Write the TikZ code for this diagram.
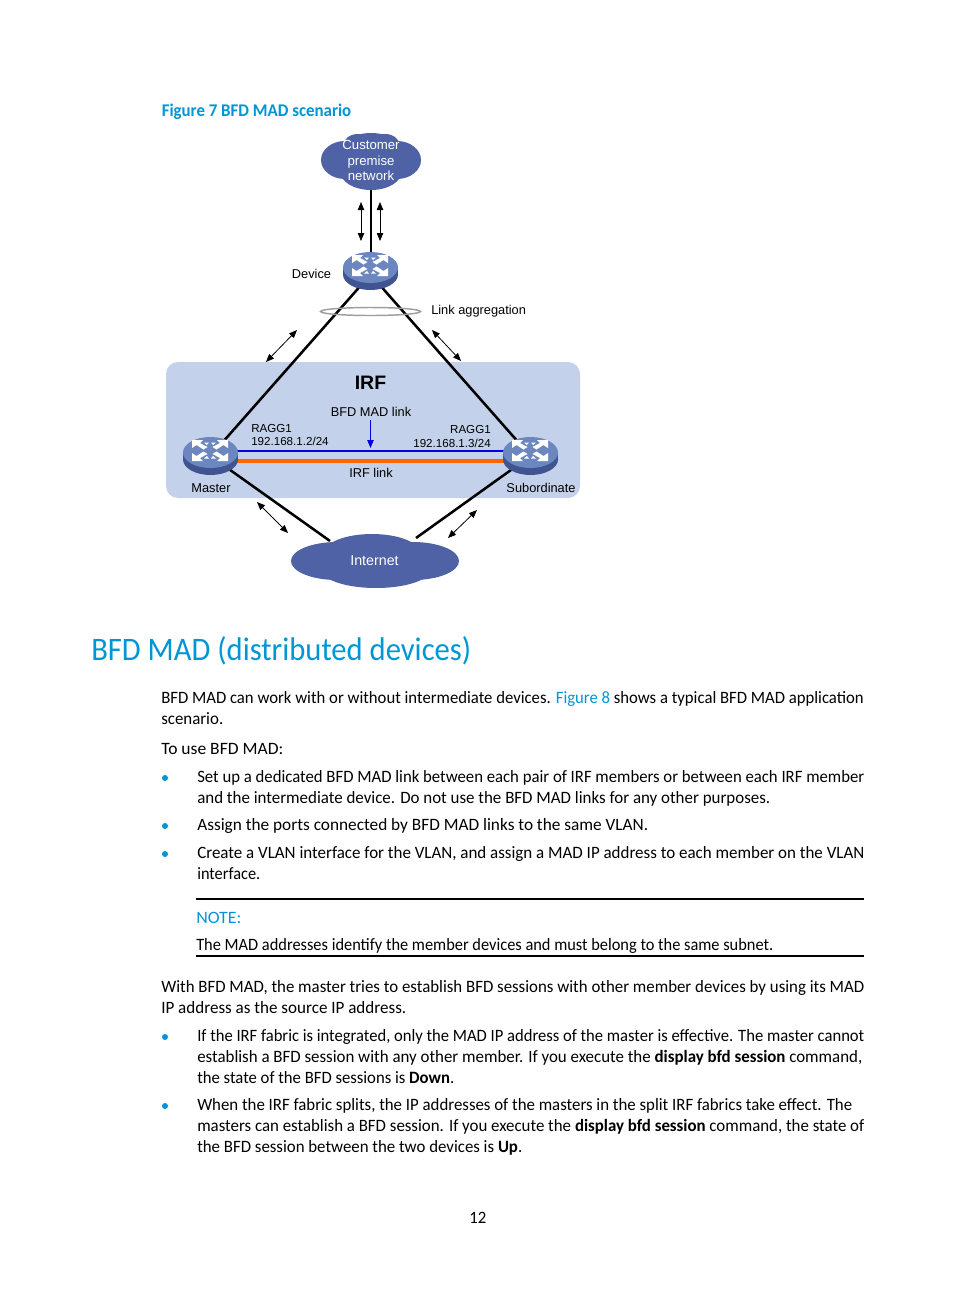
\documentclass[tikz,border=0pt]{standalone}
\usepackage{fontspec}
\usepackage{graphicx}
\setmainfont{Carlito}
\newfontfamily\dia{Liberation Sans}
\usetikzlibrary{arrows.meta}
\definecolor{hpblue}{HTML}{0096D6}
\definecolor{cloudc}{HTML}{4F62A5}
\definecolor{panel}{HTML}{C3D1EA}
\definecolor{swtop}{HTML}{6C87BF}
\definecolor{swside}{HTML}{3F5490}
\definecolor{orangel}{HTML}{FF6600}
\newsavebox{\lwbox}
\newcommand{\lw}[2]{\sbox{\lwbox}{#2}\pgfmathsetmacro{\lwr}{#1*0.75/\the\wd\lwbox}\scalebox{\lwr}[1]{\usebox{\lwbox}}}
\tikzset{
  x=0.75pt,y=-0.75pt,
  body/.style={anchor=base west,inner sep=0pt,font=\fontsize{13pt}{15pt}\selectfont,text=black},
  bul/.style={circle,fill=hpblue,inner sep=0pt,minimum size=4.5pt},
  dlabel/.style={inner sep=0pt,font=\dia\fontsize{9.6pt}{12pt}\selectfont,text=black},
  smalll/.style={dlabel,font=\dia\fontsize{8.7pt}{12pt}\selectfont},
  wlabel/.style={inner sep=0pt,font=\dia\fontsize{9.9pt}{11.9pt}\selectfont,text=white,align=center},
  spot/.style={inner sep=0pt,minimum size=0pt,outer sep=0pt},
  link/.style={line width=1.9pt,black},
  dbl/.style={line width=0.6pt,black,{Triangle[length=6pt,width=4.8pt]}-{Triangle[length=6pt,width=4.8pt]}},
  rule/.style={line width=1.1pt,black},
  pics/switch/.style={code={
    \fill[swside] (-27.5,-3.5) rectangle (27.5,3.5);
    \fill[swside] (0,3.5) ellipse[x radius=27.5,y radius=15.5];
    \fill[swtop] (0,-3.5) ellipse[x radius=27.5,y radius=15.5];
    \foreach \sx in {-1,1}{\foreach \sy in {-1,1}{
      \begin{scope}[shift={(-0.5,-5.5)},xscale=\sx,yscale=\sy]
      \fill[white] (18,10.5) -- (7,10.5) -- (10,7.5) -- (2.5,3.5) -- (6.5,1) -- (13.5,5.5) -- (18,2.5) -- cycle;
      \fill[white] (1,8) -- (6,8) -- (3,5.5) -- cycle;
      \end{scope}}}
  }}
}
\begin{document}
\begin{tikzpicture}
\useasboundingbox (0,0) rectangle (954,1296);
\fill[white] (0,0) rectangle (954,1296);
% title
\node[anchor=base west,inner sep=0pt,text=hpblue,font=\bfseries\fontsize{13.4pt}{15pt}\selectfont] (figt) at (161.5,116) {\lw{189.5}{Figure 7 BFD MAD scenario}};
% panel
\fill[panel,rounded corners=9pt] (166,362) rectangle (580,498);
% anchors
\node[spot] (dev) at (370.5,271) {};
\node[spot] (mas) at (210.5,456) {};
\node[spot] (sub) at (530.5,456) {};
\node[spot] (cpn) at (370.5,188) {};
\node[spot] (inl) at (330,541) {};
\node[spot] (inr) at (416,538) {};
% links
\draw[link,line width=1.5pt] (cpn) -- (dev);
\draw[link] ([yshift=-2.6pt]dev.center) -- (mas);
\draw[link] ([yshift=-2.6pt]dev.center) -- (sub);
\draw[link] (mas) -- (inl);
\draw[link] (sub) -- (inr);
\draw[line width=1.6pt,blue!90!black] ([yshift=3.75pt]mas.center) -- ([yshift=3.75pt]sub.center);
\draw[line width=2.6pt,orangel] ([yshift=-3.75pt]mas.center) -- ([yshift=-3.75pt]sub.center);
% clouds
\fill[cloudc] (345,160) ellipse[x radius=24,y radius=19];
\fill[cloudc] (397,160) ellipse[x radius=24,y radius=19];
\fill[cloudc] (371,151) ellipse[x radius=30,y radius=18];
\fill[cloudc] (371,171) ellipse[x radius=31,y radius=19];
\fill[cloudc] (358,146) ellipse[x radius=15,y radius=12];
\fill[cloudc] (385,146) ellipse[x radius=15,y radius=12];
\fill[cloudc] (337,561) ellipse[x radius=46,y radius=19];
\fill[cloudc] (413,561) ellipse[x radius=46,y radius=19];
\fill[cloudc] (372,553) ellipse[x radius=48,y radius=19];
\fill[cloudc] (376,570) ellipse[x radius=54,y radius=18];
% link aggregation ellipse
\draw[line width=1.1pt,gray!75] (370.5,311.5) ellipse[x radius=50,y radius=4];
% arrows
\coordinate (a1a) at (361,202); \coordinate (a1b) at (361,241);
\coordinate (a2a) at (380,202); \coordinate (a2b) at (380,241);
\coordinate (a3a) at (297,330); \coordinate (a3b) at (266,362);
\coordinate (a4a) at (432,330); \coordinate (a4b) at (461,361);
\coordinate (a5a) at (257,502); \coordinate (a5b) at (288,533);
\coordinate (a6a) at (477,510); \coordinate (a6b) at (448,538);
\coordinate (a7a) at (370.5,420); \coordinate (a7b) at (370.5,448);
\draw[dbl] (a1a) -- (a1b);
\draw[dbl] (a2a) -- (a2b);
\draw[dbl] (a3a) -- (a3b);
\draw[dbl] (a4a) -- (a4b);
\draw[dbl] (a5a) -- (a5b);
\draw[dbl] (a6a) -- (a6b);
\draw[line width=0.7pt,blue!90!black,-{Triangle[length=6pt,width=4.8pt]}] (a7a) -- (a7b);
% switches
\pic at (dev) {switch};
\pic at (mas) {switch};
\pic at (sub) {switch};
% labels
\node[wlabel] (cpt) at (371,160.5) {Customer\\premise\\network};
\node[wlabel,font=\dia\fontsize{10.7pt}{12pt}\selectfont] (intt) at (374.5,561) {Internet};
\node[dlabel] (ldev) at (311.5,274) {Device};
\node[dlabel,anchor=west] (lla) at (431,311) {Link aggregation};
\node[inner sep=0pt,font=\dia\bfseries\fontsize{14.6pt}{16pt}\selectfont] (lirf) at (370.5,383) {IRF};
\node[dlabel] (lbfd) at (371,412) {BFD MAD link};
\node[smalll,anchor=west] (r1) at (251,428) {RAGG1};
\node[smalll,anchor=west] (r2) at (251,441) {192.168.1.2/24};
\node[smalll,anchor=east] (r3) at (491,430) {RAGG1};
\node[smalll,anchor=east] (r4) at (491,443) {192.168.1.3/24};
\node[dlabel] (lirfl) at (371,473) {IRF link};
\node[dlabel] (lmas) at (211,488) {Master};
\node[dlabel] (lsub) at (541,487.5) {Subordinate};
% heading
\node[anchor=base west,inner sep=0pt,text=hpblue,font=\fontsize{24.6pt}{28pt}\selectfont] (h) at (91,660) {\lw{380}{BFD MAD (distributed devices)}};
% body
\node[body] (t1) at (161,703) {\lw{702.5}{BFD MAD can work with or without intermediate devices. \textcolor{hpblue}{Figure 8} shows a typical BFD MAD application}};
\node[body] (t2) at (161,724) {\lw{62}{scenario.}};
\node[body] (t3) at (161,754) {\lw{122}{To use BFD MAD:}};
\node[bul] (b1) at (165,778) {};
\node[body] (t4) at (197,782) {\lw{667}{Set up a dedicated BFD MAD link between each pair of IRF members or between each IRF member}};
\node[body] (t5) at (197,803) {\lw{573}{and the intermediate device. Do not use the BFD MAD links for any other purposes.}};
\node[bul] (b2) at (165,826) {};
\node[body] (t6) at (197,830) {\lw{451}{Assign the ports connected by BFD MAD links to the same VLAN.}};
\node[bul] (b3) at (165,854) {};
\node[body] (t7) at (197,858) {\lw{667}{Create a VLAN interface for the VLAN, and assign a MAD IP address to each member on the VLAN}};
\node[body] (t8) at (197,879) {\lw{63}{interface.}};
\coordinate (ra) at (196,899); \coordinate (rb) at (864,899);
\coordinate (rc) at (196,956); \coordinate (rd) at (864,956);
\draw[rule] (ra) -- (rb);
\node[body,text=hpblue] (n) at (196,923) {\lw{45}{NOTE:}};
\node[body] (n2) at (196,950) {\lw{577}{The MAD addresses identify the member devices and must belong to the same subnet.}};
\draw[rule] (rc) -- (rd);
\node[body] (t9) at (161,992) {\lw{703}{With BFD MAD, the master tries to establish BFD sessions with other member devices by using its MAD}};
\node[body] (t10) at (161,1013) {\lw{245}{IP address as the source IP address.}};
\node[bul] (b4) at (165,1037) {};
\node[body] (t11) at (197,1041) {\lw{667}{If the IRF fabric is integrated, only the MAD IP address of the master is effective. The master cannot}};
\node[body] (t12) at (197,1062) {\lw{665}{establish a BFD session with any other member. If you execute the \textbf{display bfd session} command,}};
\node[body] (t13) at (197,1083) {\lw{257}{the state of the BFD sessions is \textbf{Down}.}};
\node[bul] (b5) at (165,1106) {};
\node[body] (t14) at (197,1110) {\lw{655}{When the IRF fabric splits, the IP addresses of the masters in the split IRF fabrics take effect. The}};
\node[body] (t15) at (197,1131) {\lw{667}{masters can establish a BFD session. If you execute the \textbf{display bfd session} command, the state of}};
\node[body] (t16) at (197,1152) {\lw{325}{the BFD session between the two devices is \textbf{Up}.}};
\node[body] (pg) at (469,1223) {\lw{17}{12}};
\end{tikzpicture}
\end{document}
